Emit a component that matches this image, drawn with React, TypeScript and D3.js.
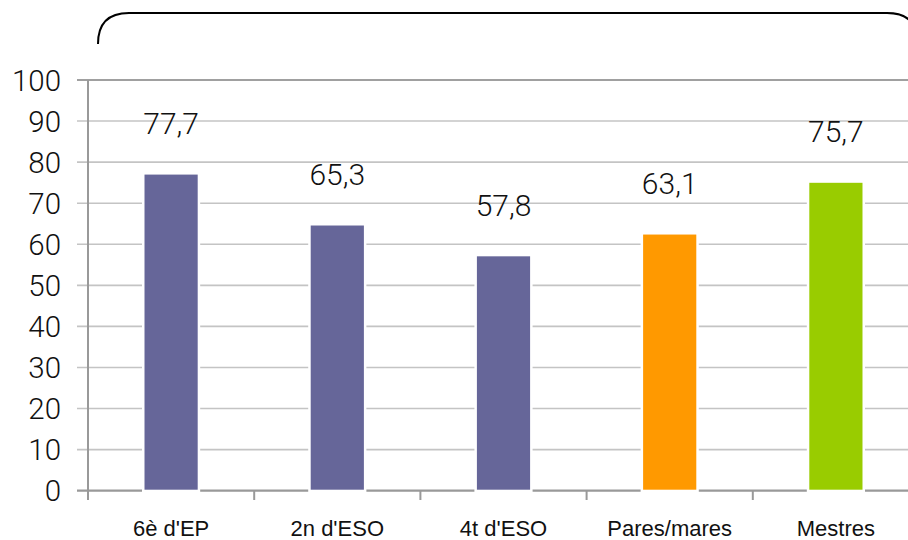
import React from "react";
import * as d3 from "d3";

const categories = ["6è d'EP", "2n d'ESO", "4t d'ESO", "Pares/mares", "Mestres"];
const values = [77.7, 65.3, 57.8, 63.1, 75.7];
const labels = ["77,7", "65,3", "57,8", "63,1", "75,7"];
const colors = ["#666699", "#666699", "#666699", "#FF9900", "#99CC00"];
const yTicks = [0, 10, 20, 30, 40, 50, 60, 70, 80, 90, 100];

const W = 908;
const H = 540;
const FONT = "Roboto, 'Liberation Sans', sans-serif";
const CAT_FONT = "'Liberation Sans', Arial, sans-serif";
const BAR_INSET = 3;

export default function App() {
  const x = d3
    .scaleBand<string>()
    .domain(categories)
    .range([88, 919])
    .paddingInner(0.68)
    .paddingOuter(0.34);
  const y = d3.scaleLinear().domain([0, 100]).range([490.7, 80]);
  const step = x.step();
  const x0 = 88;

  return (
    <svg
      width={W}
      height={H}
      style={{ position: "absolute", left: 0, top: 0, background: "#fff" }}
      fontFamily={FONT}
    >
      {/* top rounded frame */}
      <path
        d={`M98,44 Q98,13 129,13 L887,13 Q918,13 918,44`}
        fill="none"
        stroke="#000"
        strokeWidth={2}
      />
      {/* gridlines */}
      {yTicks.map((t) => (
        <line
          key={"g" + t}
          x1={77}
          x2={W}
          y1={y(t)}
          y2={y(t)}
          stroke={t === 100 ? "#a0a0a0" : t === 0 ? "#999" : "#c4c4c4"}
          strokeWidth={t === 0 || t === 100 ? 2.2 : 1.6}
        />
      ))}
      {/* y axis */}
      <line x1={x0} x2={x0} y1={80} y2={500} stroke="#999" strokeWidth={2} />
      {/* x ticks */}
      {categories.map((_, i) => (
        <line
          key={"xt" + i}
          x1={x0 + (i + 1) * step}
          x2={x0 + (i + 1) * step}
          y1={y(0)}
          y2={500}
          stroke="#999"
          strokeWidth={2}
        />
      ))}
      {/* y tick labels */}
      {yTicks.map((t) => (
        <text
          key={"yl" + t}
          x={61}
          y={y(t)}
          dy="0.36em"
          textAnchor="end"
          fontSize={29.5}
          fontWeight={300}
          fill="#111"
        >
          {t}
        </text>
      ))}
      {/* bars */}
      {categories.map((c, i) => (
        <rect
          key={"b" + c}
          x={x(c)}
          y={y(values[i]) + BAR_INSET}
          width={x.bandwidth()}
          height={y(0) - y(values[i]) - BAR_INSET - 1}
          fill={colors[i]}
          stroke="#fff"
          strokeWidth={5}
          style={{ paintOrder: "stroke" }}
        />
      ))}
      {/* value labels */}
      {categories.map((c, i) => (
        <text
          key={"v" + c}
          x={(x(c) as number) + x.bandwidth() / 2}
          y={y(values[i]) - 37.6}
          textAnchor="middle"
          fontSize={30}
          fontWeight={300}
          fill="#111"
        >
          {labels[i]}
        </text>
      ))}
      {/* category labels */}
      {categories.map((c) => (
        <text
          key={"c" + c}
          x={(x(c) as number) + x.bandwidth() / 2}
          y={536}
          textAnchor="middle"
          fontSize={22}
          fontFamily={CAT_FONT}
          fill="#111"
        >
          {c}
        </text>
      ))}
    </svg>
  );
}
